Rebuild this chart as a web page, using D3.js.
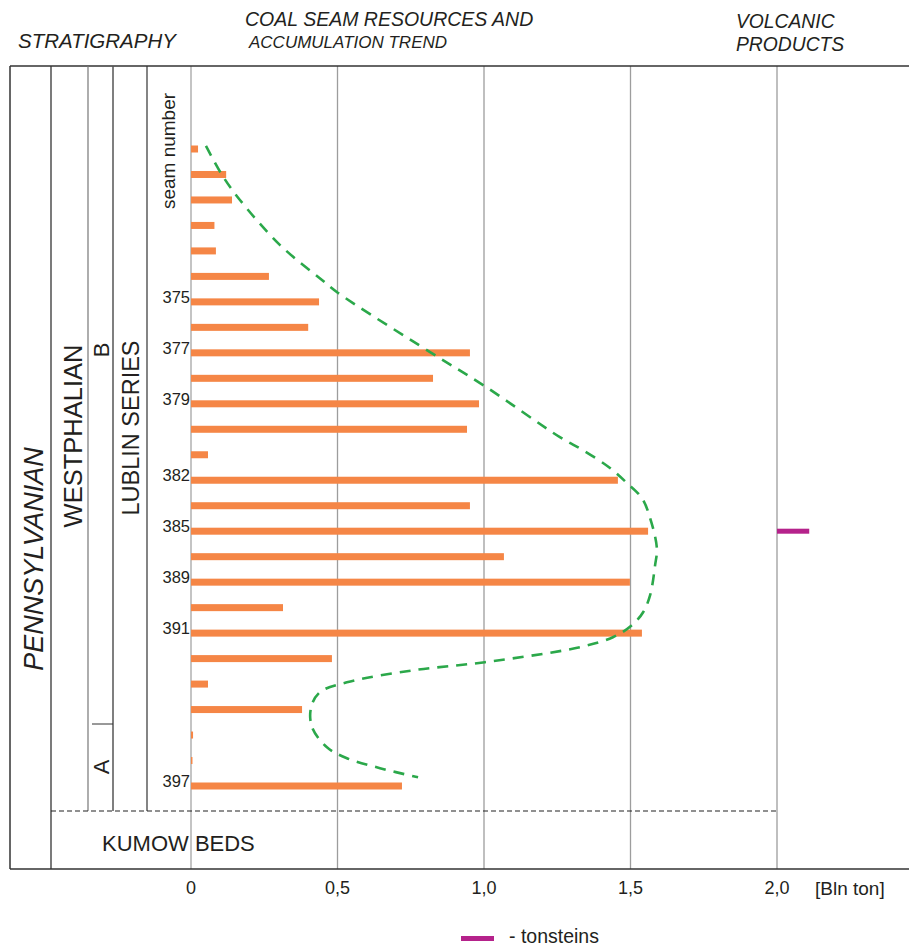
<!DOCTYPE html>
<html>
<head>
<meta charset="utf-8">
<script src="https://cdn.jsdelivr.net/npm/d3@7"></script>
<style>
  body { margin: 0; background: #fff; }
  text { font-family: "Liberation Sans", Arial, sans-serif; fill: #231f20; }
</style>
</head>
<body>
<script>
// seam rows, top to bottom
var seamLabels = ["", "", "", "", "", "", "375", "", "377", "", "379", "", "", "382", "", "385", "", "389", "", "391", "", "", "", "", "", "397"];
var resources = [0.024, 0.12, 0.14, 0.08, 0.085, 0.266, 0.437, 0.40, 0.952, 0.826, 0.983, 0.942, 0.058, 1.457,
                 0.952, 1.56, 1.068, 1.498, 0.314, 1.539, 0.481, 0.058, 0.379, 0.007, 0.005, 0.72];

// accumulation trend [value, row]
var trend = [[0.051, -0.12], [0.106, 1.02], [0.167, 2.0], [0.304, 3.77], [0.447, 5.14], [0.502, 5.65],
             [0.816, 7.97], [1.003, 9.31], [1.259, 11.31], [1.338, 11.82], [1.43, 12.52], [1.488, 13.11],
             [1.539, 13.7], [1.567, 14.49], [1.59, 15.67], [1.584, 16.33], [1.567, 17.51], [1.543, 18.18],
             [1.505, 18.69], [1.44, 19.16], [1.328, 19.55], [1.003, 20.14], [0.758, 20.46], [0.532, 20.93],
             [0.44, 21.32], [0.41, 21.91], [0.413, 22.69], [0.464, 23.48], [0.532, 23.91], [0.645, 24.3], [0.775, 24.66]];

// tonsteins [from, to, row]
var tonsteins = [[2.0, 2.11, 15]];

var xTicks = [0, 0.5, 1.0, 1.5, 2.0];
var xTickLabels = ["0", "0,5", "1,0", "1,5", "2,0"];

var w = 909, h = 946;
var frameTop = 66, frameBottom = 869, baseY = 811;

var svg = d3.select("body").append("svg")
    .attr("width", w)
    .attr("height", h);

var x = d3.scaleLinear().domain([0, 2]).range([191, 777]);
var y = d3.scaleLinear().domain([0, 25]).range([149, 786]);

// gridlines
svg.selectAll("line.grid")
    .data(xTicks)
    .enter()
    .append("line")
    .attr("x1", function(d) { return x(d); })
    .attr("x2", function(d) { return x(d); })
    .attr("y1", frameTop)
    .attr("y2", frameBottom)
    .attr("stroke", function(d) { return d === 0 ? "#c4c4c4" : "#9d9d9d"; })
    .attr("stroke-width", function(d) { return d === 0 ? 2 : 1.3; });

// frame
function seg(x1, y1, x2, y2, col, sw) {
    return svg.append("line")
        .attr("x1", x1).attr("y1", y1).attr("x2", x2).attr("y2", y2)
        .attr("stroke", col).attr("stroke-width", sw);
}
seg(10, frameTop, w, frameTop, "#333", 1.5);
seg(10, frameBottom, w, frameBottom, "#333", 1.5);
seg(10, frameTop, 10, frameBottom, "#333", 1.5);
seg(51, frameTop, 51, frameBottom, "#333", 1.3);

// stratigraphy columns
seg(88, frameTop, 88, baseY, "#777", 1.2);
seg(113, frameTop, 113, baseY, "#555", 1.5);
seg(147, frameTop, 147, baseY, "#333", 1.2);
seg(92, 724, 113, 724, "#333", 1);

// base of Westphalian
seg(51, baseY, x(2), baseY, "#222", 1.2).attr("stroke-dasharray", "5,3");

// bars
svg.selectAll("rect.bar")
    .data(resources)
    .enter()
    .append("rect")
    .attr("x", x(0))
    .attr("y", function(d, i) { return y(i) - 3.5; })
    .attr("width", function(d) { return x(d) - x(0); })
    .attr("height", 7)
    .attr("fill", "#f58646");

// tonsteins
svg.selectAll("rect.ton")
    .data(tonsteins)
    .enter()
    .append("rect")
    .attr("x", function(d) { return x(d[0]); })
    .attr("y", function(d) { return y(d[2]) - 2.5; })
    .attr("width", function(d) { return x(d[1]) - x(d[0]); })
    .attr("height", 5)
    .attr("fill", "#b5228b");

// trend
var line = d3.line()
    .x(function(d) { return x(d[0]); })
    .y(function(d) { return y(d[1]); })
    .curve(d3.curveCatmullRom.alpha(0.5));

svg.append("path")
    .datum(trend)
    .attr("d", line)
    .attr("fill", "none")
    .attr("stroke", "#2ba84a")
    .attr("stroke-width", 2.6)
    .attr("stroke-dasharray", "11,8");

// seam numbers
svg.selectAll("text.seam")
    .data(seamLabels)
    .enter()
    .append("text")
    .attr("x", 190)
    .attr("y", function(d, i) { return y(i) + 1; })
    .attr("text-anchor", "end")
    .style("font-size", "16.5px")
    .text(function(d) { return d; });

// axis labels
svg.selectAll("text.tick")
    .data(xTicks)
    .enter()
    .append("text")
    .attr("x", function(d) { return x(d); })
    .attr("y", 894)
    .attr("text-anchor", "middle")
    .style("font-size", "18px")
    .text(function(d, i) { return xTickLabels[i]; });
svg.append("text").attr("x", 815).attr("y", 895).style("font-size", "19px").text("[Bln ton]");

// headers
function htext(px, py, size, str) {
    svg.append("text").attr("x", px).attr("y", py)
        .style("font-size", size + "px").style("font-style", "italic").text(str);
}
htext(18, 48, 20.5, "STRATIGRAPHY");
htext(245, 26, 19.5, "COAL SEAM RESOURCES AND");
htext(249, 48, 17, "ACCUMULATION TREND");
htext(736, 28, 19.3, "VOLCANIC");
htext(736, 51, 19.3, "PRODUCTS");

// rotated column titles
function vtext(cx, cy, size, str, italic) {
    svg.append("text")
        .attr("transform", "translate(" + cx + "," + cy + ") rotate(-90)")
        .attr("text-anchor", "middle")
        .attr("dy", "0.35em")
        .style("font-size", size + "px")
        .style("font-style", italic ? "italic" : "normal")
        .text(str);
}
vtext(34, 559, 27, "PENNSYLVANIAN", true);
vtext(73, 436, 25.5, "WESTPHALIAN", false);
vtext(101, 350, 22, "B", false);
vtext(101, 767, 22, "A", false);
vtext(131, 428, 23.5, "LUBLIN SERIES", false);
vtext(168, 151, 19, "seam number", false);

svg.append("text").attr("x", 102).attr("y", 851).style("font-size", "22px").text("KUMOW BEDS");

// legend
svg.append("rect").attr("x", 461).attr("y", 936).attr("width", 33).attr("height", 5).attr("fill", "#b5228b");
svg.append("text").attr("x", 509).attr("y", 943).style("font-size", "19.5px").text("- tonsteins");
</script>
</body>
</html>
